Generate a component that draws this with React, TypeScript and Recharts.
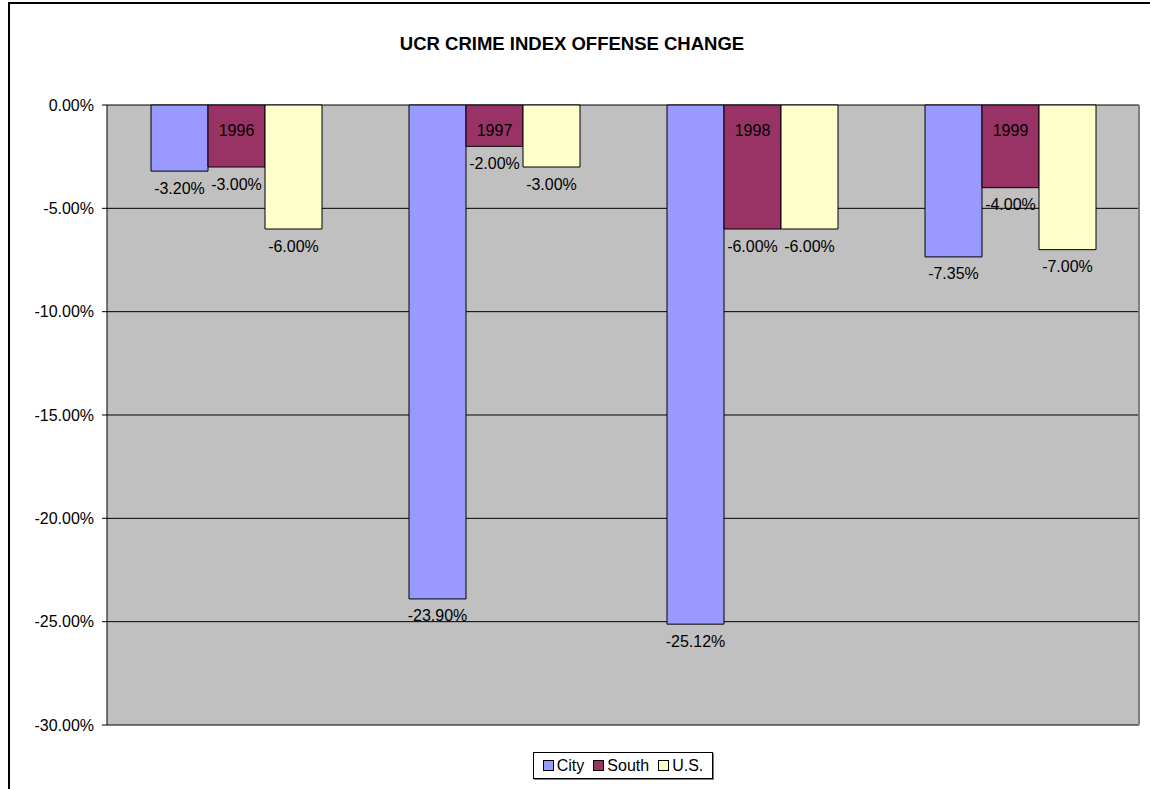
import { Bar, BarChart, CartesianGrid, LabelList, XAxis, YAxis } from "recharts";

const years = ["1996", "1997", "1998", "1999"];
const city = [-3.2, -23.9, -25.12, -7.35];
const south = [-3.0, -2.0, -6.0, -4.0];
const us = [-6.0, -3.0, -6.0, -7.0];
const yTicks = [0, -5, -10, -15, -20, -25, -30];

const data = years.map((year, i) => ({ year, city: city[i], south: south[i], us: us[i] }));

const FONT = "'Liberation Sans', Arial, sans-serif";

const series = [
  { key: "city", name: "City", color: "#9999FF" },
  { key: "south", name: "South", color: "#993366" },
  { key: "us", name: "U.S.", color: "#FFFFCC" }
];

function ValueLabel(props: any) {
  const { x, y, width, height, value } = props;
  const bottom = Math.max(y, y + height);
  return (
    <text x={x + width / 2} y={bottom + 17} textAnchor="middle" dominantBaseline="central" fontSize={16} fontFamily={FONT} fill="#000">
      {Number(value).toFixed(2)}%
    </text>
  );
}

function YearLabel(props: any) {
  const { x, y, width, height, value } = props;
  const top = Math.min(y, y + height);
  return (
    <text x={x + width / 2} y={top + 25} textAnchor="middle" dominantBaseline="central" fontSize={16} fontFamily={FONT} fill="#000">
      {value}
    </text>
  );
}

export default function App() {
  return (
    <div style={{ position: "absolute", left: 8, top: 2, width: 1160, height: 800, border: "2px solid #000", boxSizing: "border-box", background: "#fff" }}>
      <div style={{ position: "absolute", left: 562, top: 40, transform: "translate(-50%, -50%)", fontFamily: FONT, fontWeight: "bold", fontSize: 18.5, whiteSpace: "nowrap" }}>
        UCR CRIME INDEX OFFENSE CHANGE
      </div>
      <BarChart width={1140} height={781} data={data} margin={{ top: 101, right: 11, bottom: 60, left: 0 }} barCategoryGap={44} barGap={0}>
        <CartesianGrid vertical={false} stroke="#000" fill="#C0C0C0" fillOpacity={1} />
        <CartesianGrid
          horizontal={false}
          stroke="#808080"
          strokeWidth={2}
          verticalCoordinatesGenerator={({ offset }: any) => [offset.left + offset.width]}
        />
        <XAxis dataKey="year" hide />
        <YAxis
          domain={[-30, 0]}
          ticks={yTicks}
          interval={0}
          width={97}
          tickSize={5}
          tickMargin={8}
          stroke="#000"
          tick={{ fill: "#000", fontSize: 16, fontFamily: FONT }}
          tickFormatter={(v: number) => v.toFixed(2) + "%"}
        />
        {series.map((s) => (
          <Bar key={s.key} dataKey={s.key} name={s.name} fill={s.color} stroke="#000" strokeWidth={1} isAnimationActive={false}>
            <LabelList dataKey={s.key} content={ValueLabel} />
            {s.key === "south" && <LabelList dataKey="year" content={YearLabel} />}
          </Bar>
        ))}
      </BarChart>
      <div
        style={{
          position: "absolute",
          left: 523,
          top: 748,
          width: 180,
          height: 27,
          padding: "0 4px",
          border: "1px solid #000",
          boxShadow: "1px 1px 0 #808080",
          display: "flex",
          alignItems: "center",
          justifyContent: "center",
          gap: 9,
          fontFamily: FONT,
          fontSize: 16,
          background: "#fff",
          boxSizing: "border-box"
        }}
      >
        {series.map((s) => (
          <span key={s.key} style={{ display: "flex", alignItems: "center", gap: 3 }}>
            <span style={{ width: 9, height: 9, background: s.color, border: "1px solid #000", display: "inline-block" }} />
            {s.name}
          </span>
        ))}
      </div>
    </div>
  );
}
